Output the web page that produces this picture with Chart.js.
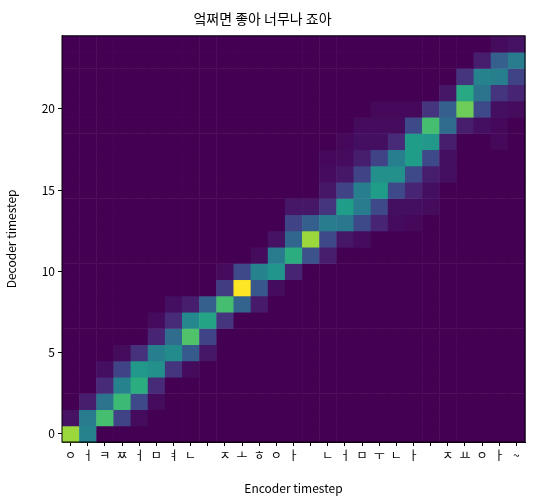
<!DOCTYPE html>
<html><head><meta charset="utf-8">
<script src="https://cdn.jsdelivr.net/npm/chart.js@4/dist/chart.umd.min.js"></script>
<style>body{margin:0;background:#fff}#w{width:540px;height:500px}</style>
</head><body><div id="w"><canvas id="c"></canvas></div>
<script>
const encoderLabels = ["ㅇ","ㅓ","ㅋ","ㅉ","ㅓ","ㅁ","ㅕ","ㄴ"," ","ㅈ","ㅗ","ㅎ","ㅇ","ㅏ"," ","ㄴ","ㅓ","ㅁ","ㅜ","ㄴ","ㅏ"," ","ㅈ","ㅛ","ㅇ","ㅏ","~"];
const decoderTicks = [0,5,10,15,20];
const nRows = 25;
// [encoder col, decoder row, weight]
const cells = [
[0,0,0.85],[1,0,0.45],
[0,1,0.05],[1,1,0.42],[2,1,0.7],[3,1,0.2],[4,1,0.03],
[1,2,0.08],[2,2,0.38],[3,2,0.68],[4,2,0.22],[5,2,0.03],
[2,3,0.12],[3,3,0.45],[4,3,0.62],[5,3,0.12],
[2,4,0.04],[3,4,0.2],[4,4,0.53],[5,4,0.5],[6,4,0.15],[7,4,0.03],
[3,5,0.03],[4,5,0.14],[5,5,0.43],[6,5,0.48],[7,5,0.28],[8,5,0.06],
[5,6,0.1],[6,6,0.35],[7,6,0.72],[8,6,0.2],
[5,7,0.03],[6,7,0.12],[7,7,0.47],[8,7,0.58],[9,7,0.15],
[6,8,0.04],[7,8,0.08],[8,8,0.3],[9,8,0.7],[10,8,0.32],[11,8,0.07],
[9,9,0.18],[10,9,1.0],[11,9,0.27],[12,9,0.03],
[9,10,0.03],[10,10,0.22],[11,10,0.45],[12,10,0.52],[13,10,0.1],
[11,11,0.03],[12,11,0.42],[13,11,0.62],[14,11,0.25],[15,11,0.08],
[12,12,0.05],[13,12,0.33],[14,12,0.85],[15,12,0.22],[16,12,0.06],[17,12,0.03],
[13,13,0.2],[14,13,0.3],[15,13,0.42],[16,13,0.4],[17,13,0.22],[18,13,0.1],[19,13,0.03],[20,13,0.02],
[13,14,0.06],[14,14,0.06],[15,14,0.15],[16,14,0.55],[17,14,0.42],[18,14,0.22],[19,14,0.04],[20,14,0.04],[21,14,0.03],
[15,15,0.06],[16,15,0.2],[17,15,0.43],[18,15,0.55],[19,15,0.22],[20,15,0.1],[21,15,0.04],
[15,16,0.03],[16,16,0.06],[17,16,0.2],[18,16,0.5],[19,16,0.5],[20,16,0.22],[21,16,0.08],[22,16,0.04],
[15,17,0.02],[16,17,0.03],[17,17,0.08],[18,17,0.2],[19,17,0.43],[20,17,0.55],[21,17,0.22],[22,17,0.04],
[16,18,0.02],[17,18,0.04],[18,18,0.04],[19,18,0.12],[20,18,0.55],[21,18,0.53],[22,18,0.08],[25,18,0.02],
[17,19,0.03],[18,19,0.03],[19,19,0.03],[20,19,0.22],[21,19,0.7],[22,19,0.35],[23,19,0.08],[24,19,0.04],[25,19,0.02],
[18,20,0.02],[19,20,0.02],[20,20,0.02],[21,20,0.15],[22,20,0.3],[23,20,0.78],[24,20,0.22],[25,20,0.04],[26,20,0.03],
[22,21,0.06],[23,21,0.6],[24,21,0.38],[25,21,0.15],[26,21,0.1],
[23,22,0.15],[24,22,0.45],[25,22,0.43],[26,22,0.2],
[24,23,0.08],[25,23,0.3],[26,23,0.42],
[25,24,0.03],[26,24,0.05]
];
const VIR=[[68,1,84],[72,40,120],[62,74,137],[49,104,142],[38,130,142],[31,158,137],[53,183,121],[109,205,89],[180,222,44],[253,231,37]];
function viridis(t){t=Math.max(0,Math.min(1,t))*(VIR.length-1);const i=Math.min(Math.floor(t),VIR.length-2),f=t-i;const a=VIR[i],b=VIR[i+1];return `rgb(${a.map((v,k)=>Math.round(v+(b[k]-v)*f)).join(',')})`;}
const full=[];for(let r=0;r<nRows;r++)for(let c=0;c<encoderLabels.length;c++)full.push({x:c,y:r,v:0});
cells.forEach(([c,r,v])=>{full[r*encoderLabels.length+c].v=v;});
const heat={id:'heat',beforeDatasetsDraw(ch){const ctx=ch.ctx,xs=ch.scales.x,ys=ch.scales.y;ctx.save();
 ch.data.datasets[0].data.forEach(p=>{const x0=xs.getPixelForValue(p.x-0.5),x1=xs.getPixelForValue(p.x+0.5),y0=ys.getPixelForValue(p.y+0.5),y1=ys.getPixelForValue(p.y-0.5);
 ctx.fillStyle=viridis(p.v);ctx.fillRect(x0,y0,x1-x0+0.5,y1-y0+0.5);});
 const a=ch.chartArea;ctx.strokeStyle='#000';ctx.lineWidth=1;ctx.strokeRect(a.left,a.top,a.right-a.left,a.bottom-a.top);ctx.restore();}};
const F="'Noto Sans CJK KR','Noto Sans',sans-serif";
new Chart(document.getElementById('c'),{type:'scatter',
 data:{datasets:[{data:full,pointRadius:0,pointHoverRadius:0}]},
 options:{responsive:true,maintainAspectRatio:false,animation:false,events:[],
 layout:{padding:{left:0,right:15,top:0,bottom:0}},
 plugins:{legend:{display:false},tooltip:{enabled:false},
  title:{display:true,text:'엌쩌면 좋아 너무나 죠아',color:'#000',font:{family:F,size:14,weight:'normal'},padding:{top:10,bottom:9}}},
 scales:{
  x:{type:'linear',min:-0.5,max:encoderLabels.length-0.5,
   afterBuildTicks(s){s.ticks=encoderLabels.map((_,i)=>({value:i}));},
   afterFit(s){s.height=58;},
   ticks:{autoSkip:false,maxRotation:0,color:'#000',font:{family:F,size:12},padding:2,callback:(v)=>encoderLabels[v]},
   grid:{drawOnChartArea:false,color:'#000',tickLength:4},border:{color:'#000'},
   title:{display:true,text:'Encoder timestep',color:'#000',font:{family:F,size:12},padding:{top:0}}},
  y:{type:'linear',min:-0.5,max:nRows-0.5,
   afterBuildTicks(s){s.ticks=decoderTicks.map(v=>({value:v}));},
   afterFit(s){s.width=62;},
   ticks:{color:'#000',font:{family:F,size:12},padding:3},
   grid:{drawOnChartArea:false,color:'#000',tickLength:4},border:{color:'#000'},
   title:{display:true,text:'Decoder timestep',color:'#000',font:{family:F,size:12}}}
 }},plugins:[heat]});
</script></body></html>
